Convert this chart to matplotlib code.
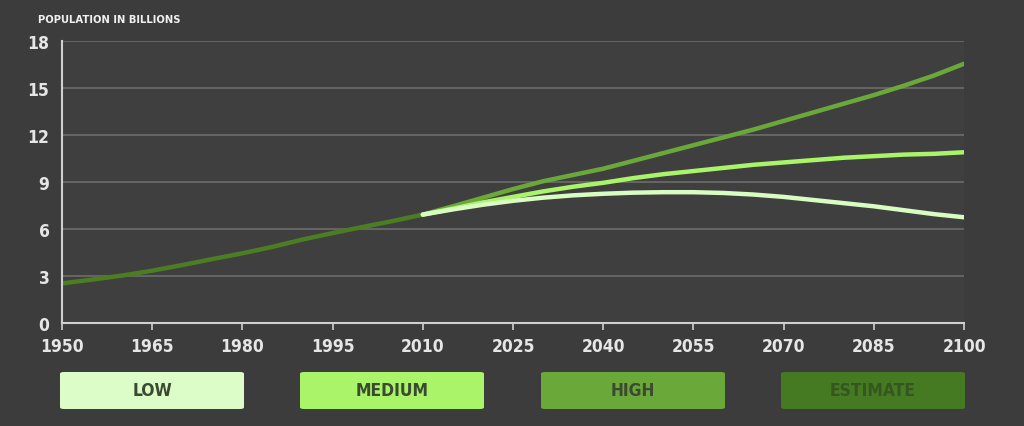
import matplotlib
matplotlib.use('Agg')
from matplotlib import pyplot as plt
from matplotlib.patches import FancyBboxPatch

# 数据：历史估计值与三种预测（单位：十亿）
est_years = [1950, 1955, 1960, 1965, 1970, 1975, 1980, 1985, 1990, 1995, 2000, 2005, 2010]
estimate = [2.53, 2.77, 3.03, 3.34, 3.70, 4.08, 4.45, 4.86, 5.33, 5.74, 6.13, 6.51, 6.92]

proj_years = [2010, 2015, 2020, 2025, 2030, 2035, 2040, 2045, 2050, 2055,
              2060, 2065, 2070, 2075, 2080, 2085, 2090, 2095, 2100]
high = [6.92, 7.45, 8.0, 8.55, 9.05, 9.45, 9.85, 10.35, 10.85, 11.35,
        11.85, 12.35, 12.9, 13.45, 14.0, 14.55, 15.15, 15.8, 16.55]
medium = [6.92, 7.3, 7.7, 8.05, 8.4, 8.7, 8.95, 9.25, 9.5, 9.7,
          9.9, 10.1, 10.25, 10.4, 10.55, 10.65, 10.75, 10.8, 10.9]
low = [6.92, 7.25, 7.55, 7.8, 8.0, 8.15, 8.25, 8.32, 8.35, 8.35,
       8.3, 8.2, 8.05, 7.85, 7.65, 7.45, 7.2, 6.95, 6.75]

x_ticks = list(range(1950, 2101, 15))
y_ticks = [0, 3, 6, 9, 12, 15, 18]

legend_labels = ['LOW', 'MEDIUM', 'HIGH', 'ESTIMATE']
legend_colors = ['#dcfcc8', '#aaf46a', '#6aa83a', '#467a22']
legend_text_colors = ['#3b4a30', '#3b4a30', '#3b4a30', '#36561f']

bg = '#3c3c3c'
font = ['DejaVu Sans']

fig = plt.figure(figsize=(10.24, 4.27), dpi=100, facecolor=bg)
ax = fig.add_axes([0.0605, 0.2412, 0.881, 0.6604])
ax.set_facecolor('#3f3f3f')

# 网格线
for y in y_ticks[1:]:
    ax.axhline(y, color='#707070', lw=1.1, zorder=1)

ax.plot(proj_years, high, color='#6aa83a', lw=3.2, solid_capstyle='round', zorder=3)
ax.plot(proj_years, medium, color='#aaf46a', lw=3.2, solid_capstyle='round', zorder=4)
ax.plot(proj_years, low, color='#d9fcc2', lw=3.2, solid_capstyle='round', zorder=5)
ax.plot(est_years, estimate, color='#4b7d23', lw=3.2, solid_capstyle='round', zorder=2)

ax.set_xlim(1950, 2100)
ax.set_ylim(0, 18)
ax.set_xticks(x_ticks)
ax.set_yticks(y_ticks)
ax.set_xticklabels([str(v) for v in x_ticks], family=font, fontsize=12.5,
                   fontweight='bold', fontstretch='condensed', color='#e6e6e6')
ax.set_yticklabels([str(v) for v in y_ticks], family=font, fontsize=12.5,
                   fontweight='bold', fontstretch='condensed', color='#e6e6e6')
ax.tick_params(axis='x', length=5, width=1.2, color='#d0d0d0', pad=5)
ax.tick_params(axis='y', length=0, pad=9)

for s in ['top', 'right']:
    ax.spines[s].set_visible(False)
for s in ['left', 'bottom']:
    ax.spines[s].set_color('#d0d0d0')
    ax.spines[s].set_linewidth(1.5)

fig.text(38 / 1024, 1 - 20 / 427, 'POPULATION IN BILLIONS', fontsize=7.2,
         fontweight='bold', color='#f0f0f0', va='center', ha='left')

# 图例按钮
box_left = [60, 300, 541, 781]
for i in range(4):
    x0 = box_left[i] / 1024
    y0 = 1 - 410 / 427
    w = 184 / 1024
    h = 37 / 427
    p = FancyBboxPatch((x0, y0), w, h, boxstyle='round,pad=0,rounding_size=0.004',
                       transform=fig.transFigure, facecolor=legend_colors[i],
                       edgecolor='none')
    fig.patches.append(p)
    fig.text(x0 + w / 2, y0 + h / 2, legend_labels[i], family=font, fontsize=12.5,
             fontweight='bold', fontstretch='condensed',
             color=legend_text_colors[i], ha='center', va='center')

fig.savefig('out.png', dpi=100, facecolor=bg)
